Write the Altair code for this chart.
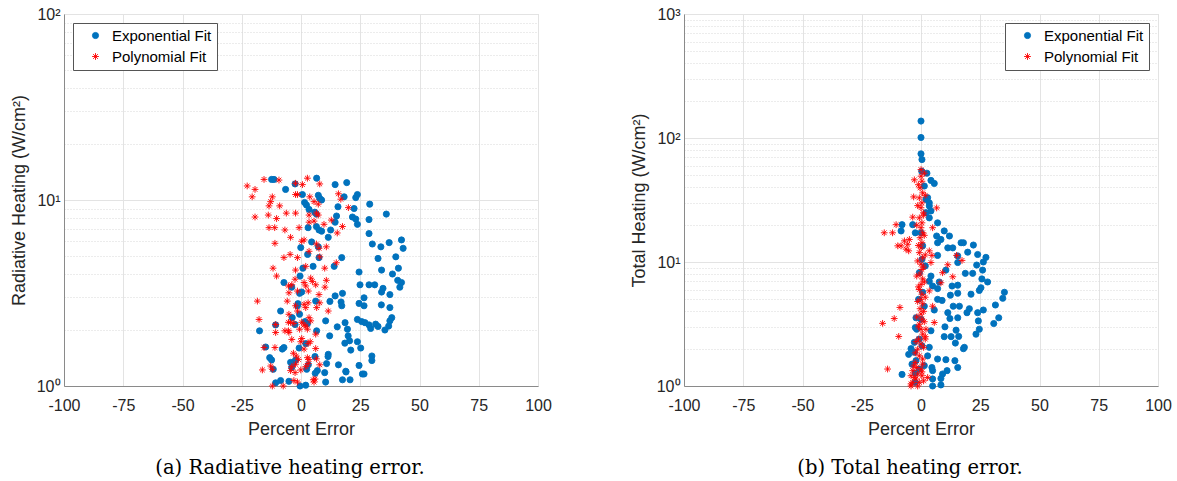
import altair as alt
import pandas as pd

BLUE = "#0072BD"
RED = "#FF0000"
ASTERISK = "M-1,0L1,0M0,-1L0,1M-0.7,-0.7L0.7,0.7M-0.7,0.7L0.7,-0.7"

series_names = ["Exponential Fit", "Polynomial Fit"]
x_ticks = [-100, -75, -50, -25, 0, 25, 50, 75, 100]
captions = ["(a) Radiative heating error.", "(b) Total heating error."]
y_titles = ["Radiative Heating (W/cm²)", "Total Heating (W/cm²)"]

# ---- panel (a): radiative heating ----
a_exp_x = [6.6, -12.4, -11.4, 14.4, 19.3, -2.5, -6.5, 7.3, 7.9, 0.6, 18.2, 23.8, 23.1, 8.7, 1.5, 2.3, 3.4, 15.6, 22.4, 29,
           36, 5.8, 6.5, 15, 21.7, 23.1, 28.7, 14.4, 23.8, 3, 6.5, 7.6, 8.7, 12.5, 11.5, 28.7, 42.4, 30.1, 33.7, 37.2,
           43.1, 4.5, -0.1, 7.3, 2.8, 32.5, 40, 17.2, 7.6, 34, 41.1, 5.1, 0.8, 14, 38.6, 24.5, -0.4, 40.8, 42.4, 41.7,
           -7.2, 24.9, 28.7, 31.1, 34.6, 34, 37.5, 0.3, -0.6, 17.5, -3.9, 26.6, 14.4, 16.9, 17.2, 12.2, 6.2, 24.5, 26.6, 33.9,
           37.5, -1.3, -1.5, -8.6, -0.6, -3.7, 38.3, 37.5, 23.8, 25.6, 27, 28.7, 31.5, 32.5, 35.4, 37, 29.4, 18.6, 10.4, 1.7,
           2.7, 6.6, 15.3, -10.7, -17.5, -2.5, 12.1, 19.6, 19.9, 20.5, 23.8, 18.5, 21, 25.2, 2, -7.9, -7.2, -14.9, 11.5, 11.4,
           29.9, 29.9, 5.9, -0.8, -13.2, -12.4, -2.3, -3, 15.8, 24.5, 25.9, 6.9, 10.8, 10, 3.1, 2.4, -11.7, -4.4, -3.9, 18.9,
           10.4, 17.5, 20.7, -8.6, -10.7, -5.1, -0.4, 2, 19, 26.6, 6]
a_exp_y = [13.1, 12.9, 12.9, 12.1, 12.4, 12.2, 11.4, 10.6, 10.2, 10.7, 10.4, 10.7, 10.3, 10.0, 9.7, 9.4, 8.9, 9.2, 9.0, 9.5,
           8.4, 8.6, 8.4, 8.2, 8.1, 7.9, 7.85, 7.6, 7.4, 7.1, 7.2, 6.9, 6.8, 6.9, 6.3, 6.6, 6.1, 5.8, 5.6, 5.9,
           5.5, 5.95, 5.55, 5.6, 5.1, 4.85, 4.95, 4.9, 4.9, 4.2, 4.3, 4.4, 4.3, 4.4, 4.0, 4.1, 3.9, 3.7, 3.6, 3.4,
           3.6, 3.5, 3.5, 3.5, 3.35, 3.2, 3.1, 3.2, 3.15, 3.15, 3.4, 2.98, 3.05, 2.83, 2.7, 2.85, 2.86, 2.78, 2.7, 2.73,
           2.64, 2.77, 2.7, 2.53, 2.43, 2.33, 2.33, 2.24, 2.28, 2.22, 2.19, 2.13, 2.15, 2.09, 2.0, 2.1, 2.04, 2.19, 2.24, 2.22,
           2.16, 1.98, 2.08, 2.13, 1.98, 2.14, 1.86, 2.02, 1.86, 1.75, 1.73, 1.7, 1.56, 1.6, 1.69, 1.58, 1.61, 1.62, 1.48, 1.44,
           1.45, 1.37, 1.44, 1.6, 1.42, 1.38, 1.38, 1.34, 1.3, 1.29, 1.16, 1.21, 1.32, 1.18, 1.3, 1.23, 1.23, 1.34, 1.26, 1.2,
           1.05, 1.08, 1.08, 1.07, 1.04, 1.06, 1.0, 1.01, 1.19, 1.16, 1.17]
a_poly_x = [-22.7, -19.4, -20.6, -15.6, -9.3, 2.7, 7.9, -2.3, 0.6, -12.1, -12.8, -13.5, -9, -2.3, -1.5, 3.7, 7.3, 5.5, 15.8, 16.8,
            20, -19.4, -13.8, -10.3, -6.2, -2.3, 3.4, 5.5, 6.5, 7.3, 3.4, -13.5, -11.1, -6.8, -0.8, 12.8, 17.5, 15.3, 9.7, -4.4,
            0.3, 1.3, -11, 6.5, 7.6, 10.7, -7.2, -4.6, -1.5, 3.4, 7.9, 14.9, -2.3, -11.8, -10.3, 2, 10, -2.5, 4.1, 4.8,
            -5.3, -3.9, 1.3, 2, 6.2, 10.7, 10.1, -5.1, -1.5, 3.1, 7.6, -18.4, -5.8, -2.3, 1.3, 3, 7.9, -1.5, 2, -5.1,
            6.6, 11.5, -17.7, -5.3, -4.4, -3, 3.4, 4.1, 0.3, 1.3, 2, -10.7, -0.6, 2.7, -6.8, -5.3, -10.7, -5.1, -3.9, 0.3,
            3.9, 6.2, -0.1, -15.6, 3, 6.2, 1.3, -11, -3.2, -2, -1.1, 2.7, 3.4, 6.5, -16.3, -12.8, -12.1, -3.9, -2.3, 2,
            3, 7.9, -4.4, -2.5, -0.1, 5.2, 5.9, -12.1, -7.5, -3, -1.5, 5.5]
a_poly_y = [11.9, 11.4, 10.4, 12.9, 12.8, 13.1, 12.2, 12.3, 12.1, 10.4, 9.8, 9.3, 9.3, 10.7, 10.7, 10.4, 9.5, 9.8, 10.8, 10.1,
            9.1, 8.1, 8.3, 7.95, 8.5, 8.5, 8.3, 7.7, 8.5, 8.3, 7.6, 7.1, 7.1, 6.9, 7.1, 7.8, 7.2, 6.65, 7.4, 6.3,
            6.0, 6.1, 5.85, 5.8, 5.5, 5.6, 4.9, 5.1, 4.9, 5.3, 4.95, 4.6, 4.2, 4.3, 3.9, 4.4, 4.3, 3.75, 3.8, 3.65,
            3.45, 3.5, 3.6, 3.45, 3.5, 3.7, 3.4, 3.17, 3.24, 3.24, 3.1, 2.86, 2.86, 2.7, 2.75, 2.8, 2.8, 2.53, 2.64, 2.43,
            2.64, 2.53, 2.28, 2.2, 2.2, 2.17, 2.33, 2.24, 2.2, 2.13, 2.1, 2.14, 2.02, 2.02, 1.98, 1.98, 1.94, 1.94, 1.78, 1.8,
            1.73, 1.9, 1.73, 1.61, 1.69, 1.59, 1.58, 1.61, 1.5, 1.45, 1.39, 1.42, 1.39, 1.4, 1.22, 1.28, 1.23, 1.27, 1.31, 1.27,
            1.32, 1.3, 1.21, 1.18, 1.22, 1.08, 1.09, 1.0, 1.0, 1.07, 1.05, 1.05]

# ---- panel (b): total heating ----
b_exp_x = [0, 0, 0, 0.4, 0.3, 2.5, 4.2, 5.6, 2.1, 3.5, 4.2, 3.5, 7, -8, -3.5, -8.4, 9.8, 12, -2.4, 6.6,
           8.4, 7, 11.3, 13.4, 16.9, 17.9, 22.1, 19.7, 7, 15.5, 23.9, 27.4, 26.3, 23.5, 15.5, 26, 10.5, 18.7, 21.8, 25.7,
           28.1, 4.2, 7.7, 13.1, 15.5, 25.3, 24.6, 7, 4.9, 12.4, 15.5, 21.1, 35.2, 34.5, 8.9, 7, 31.4, 13.6, 16.2, 26.3,
           5.6, 11.3, 19.4, 20.4, 23.9, 12.2, 15.5, 32.8, -2.1, -2.4, 24.2, 30.7, 4.2, 10.1, 14.8, 24.6, 23.2, 9.8, 12.7, 15.9,
           -2.8, 14.5, 18.3, 3.5, -4.2, -5.2, 17.9, 2.8, 7, 10.5, -2.1, 14.3, -3.8, 4.6, 4.9, 15.5, 11, -8, -2.4, 9.1,
           8.4, 4.9, -2.4, 4.9, 8.4, 1.4, 2.8, 3.5, 2.1, 0, 0.7, 0.4, 1.8, -0.7, 3.5, 0.7, -1, 1.4, 0, -1.8,
           -0.7, 0.4, 1.4, -0.7, -2.8]
b_exp_y = [137, 101, 74.5, 67, 54, 52, 45.5, 43, 32, 30, 25.8, 22.7, 20.7, 20, 20, 17.8, 17.8, 16.2, 17.2, 16.2,
           15.2, 14.3, 13.0, 13.0, 14.3, 14.3, 13.7, 12.0, 11.3, 11.2, 11.5, 10.9, 10, 9.45, 9.9, 8.6, 8.6, 8.1, 8.1, 7.3,
           6.9, 7.7, 6.9, 6.4, 6.5, 6.2, 5.9, 6.1, 6.4, 5.4, 5.6, 5.5, 5.7, 5.1, 4.9, 5.0, 4.5, 4.4, 4.4, 4.1,
           4.1, 3.9, 3.9, 4.2, 3.9, 3.5, 3.55, 3.55, 3.55, 2.96, 3.35, 3.19, 2.79, 3.0, 2.82, 2.87, 2.62, 2.5, 2.5, 2.51,
           2.25, 2.22, 2.05, 2.05, 2.0, 1.8, 2.0, 1.75, 1.65, 1.63, 1.6, 1.6, 1.5, 1.41, 1.33, 1.41, 1.33, 1.24, 1.27, 1.25,
           1.15, 1.14, 1.07, 1.0, 1.02, 41, 33, 28.3, 25, 17.2, 13.5, 10.5, 9.3, 8.2, 7.0, 5.7, 5.0, 4.4, 3.45, 2.87,
           2.39, 2.11, 1.46, 1.37, 1.87]
b_poly_x = [0, 0, 0.4, -0.4, 0.7, -0.7, 0.4, 0, 1.0, -0.7, 0.4, 0, 0.7, -0.4, 0.4, 0, -0.7, 0.7, 0, 0.4,
            -0.4, 0.7, 0, -0.7, 0.4, 0, 0.7, -0.4, 0, 0.4, -0.7, 0, 0.7, -1.0, 0, -1.4, -0.7, -2.4, -1.8, -3.5,
            -4.2, -1.4, 0.4, -0.7, -3.5, -4.2,
            1.4, -1.1, 1.8, -1.4, 1.1, -1.8, 1.4, -1.1, 1.8, -1.4, 1.1, -1.8, 1.4, -1.1, 1.8, -1.4, 1.1, -1.8, 1.4, -1.1,
            1.8, -2.1, 1.1, -2.4, 0.7, -3.1, 0.4, -2.8, 1.1,
            -2.8, -3.1, 6.6, -3.5, 4.9, -10.5, -12, -15.5, -7, -5.6, -4.9, -8.4, -9.8, -6.3, -5.2, 3.5, 4.6, 4.2, 15, 17.3,
            11.3, 9.1, 13.4, 8.4, 3.5, 4.9, -8.9, -11.3, -16.2, 5.6, -9.4, 2.1, 1.8, -14.1, 0.7, 0, 2.8, -4.2, -1.4, -2.1]
b_poly_y = [55.6, 49.2, 44.8, 39.6, 36.1, 32.9, 30.0, 27.4, 24.9, 22.7, 20.7, 18.9, 17.2, 15.7, 14.3, 13.0, 11.9, 10.8, 9.6, 8.7,
            8.0, 7.3, 6.6, 6.0, 5.5, 5.0, 4.6, 4.2, 3.8, 3.46, 3.15, 2.87, 2.62, 2.39, 2.18, 1.98, 1.75, 1.55, 1.41, 1.33,
            1.21, 1.25, 1.21, 1.07, 1.07, 1.0,
            52, 42, 34.5, 28.5, 23.8, 19.8, 16.4, 13.6, 11.4, 10.2, 9.1, 7.7, 6.9, 6.3, 5.2, 4.8, 4.0, 3.6, 3.3, 3.0,
            2.5, 2.28, 2.05, 1.85, 1.65, 1.45, 1.3, 1.17, 1.1,
            46, 33.5, 27.3, 23, 18.9, 20, 17.2, 17.2, 14.8, 13.9, 15.2, 13.5, 13.5, 12.7, 12.3, 12.3, 11.3, 9.9, 11.3, 10.3,
            9.5, 8.2, 7.6, 6.8, 5.85, 4.4, 4.3, 3.5, 3.2, 3.25, 2.51, 2.87, 2.39, 1.37, 1.5, 1.37, 1.17, 1.04, 1.0, 1.14]


def make_df(ex, ey, px, py):
    rows = [{"x": a, "y": b, "series": series_names[0]} for a, b in zip(ex, ey)]
    rows += [{"x": a, "y": b, "series": series_names[1]} for a, b in zip(px, py)]
    return pd.DataFrame(rows)


def y_values(ndec):
    vals = []
    for d in range(ndec):
        for m in range(1, 10):
            vals.append(m * 10 ** d)
    vals.append(10 ** ndec)
    return vals


MINOR = "abs(log(datum.value)/LN10 - round(log(datum.value)/LN10)) > 0.001"
SUP = ("datum.value == 1 ? '10⁰' : datum.value == 10 ? '10¹' : datum.value == 100 ? '10²' : "
       "datum.value == 1000 ? '10³' : ''")
XLAB = "datum.value < 0 ? '-' + abs(datum.value) : '' + datum.value"


def panel(df, ytitle, ndec, caption, orient):
    leg = alt.Legend(title=None, orient=orient, offset=9)
    return alt.Chart(df).mark_point(filled=False, opacity=1, strokeWidth=0.9).encode(
        x=alt.X("x:Q", scale=alt.Scale(domain=[-100, 100], nice=False, zero=False),
                axis=alt.Axis(values=x_ticks, title="Percent Error", labelFlush=False, ticks=False,
                              labelExpr=XLAB, gridColor="#e3e3e3", labelPadding=11, titlePadding=7)),
        y=alt.Y("y:Q", scale=alt.Scale(type="log", domain=[1, 10 ** ndec], nice=False),
                axis=alt.Axis(values=y_values(ndec), labelExpr=SUP, ticks=False, labelOverlap=False,
                              title=ytitle, labelPadding=4, titlePadding=8,
                              gridDash={"condition": {"test": MINOR, "value": [1, 2]}, "value": []},
                              gridColor={"condition": {"test": MINOR, "value": "#d8d8d8"}, "value": "#e3e3e3"})),
        shape=alt.Shape("series:N", scale=alt.Scale(domain=series_names, range=["circle", ASTERISK]), legend=leg),
        fill=alt.Fill("series:N", scale=alt.Scale(domain=series_names, range=[BLUE, "transparent"]), legend=leg),
        stroke=alt.Stroke("series:N", scale=alt.Scale(domain=series_names, range=[BLUE, RED]), legend=leg),
        size=alt.Size("series:N", scale=alt.Scale(domain=series_names, range=[38, 46]), legend=leg),
    ).properties(
        width=474, height=372,
        title=alt.TitleParams(caption, orient="bottom", font="DejaVu Serif", fontSize=19.5,
                              fontWeight="normal", color="#000000", offset=21, frame="group", dx=-11),
    )


left = panel(make_df(a_exp_x, a_exp_y, a_poly_x, a_poly_y), y_titles[0], 2, captions[0], "top-left")
right = panel(make_df(b_exp_x, b_exp_y, b_poly_x, b_poly_y), y_titles[1], 3, captions[1], "top-right")

chart = alt.hconcat(left, right, spacing=77).properties(
    padding={"left": 9, "top": 5, "right": 0, "bottom": 0}
).configure(
    background="white"
).configure_view(
    stroke="#d6d6d6"
).configure_axis(
    labelFont="Liberation Sans", titleFont="Liberation Sans", labelFontSize=16, titleFontSize=18,
    labelColor="#262626", titleColor="#262626", titleFontWeight="normal", domainColor="#8a8a8a"
).configure_legend(
    strokeColor="#555555", fillColor="white", padding=5, labelFontSize=15, labelFont="Liberation Sans",
    labelColor="#000000", symbolOffset=10, labelOffset=9, rowPadding=5, symbolStrokeWidth=0.9
)

chart.save("out.html", embed_options={"renderer": "svg", "actions": False})
